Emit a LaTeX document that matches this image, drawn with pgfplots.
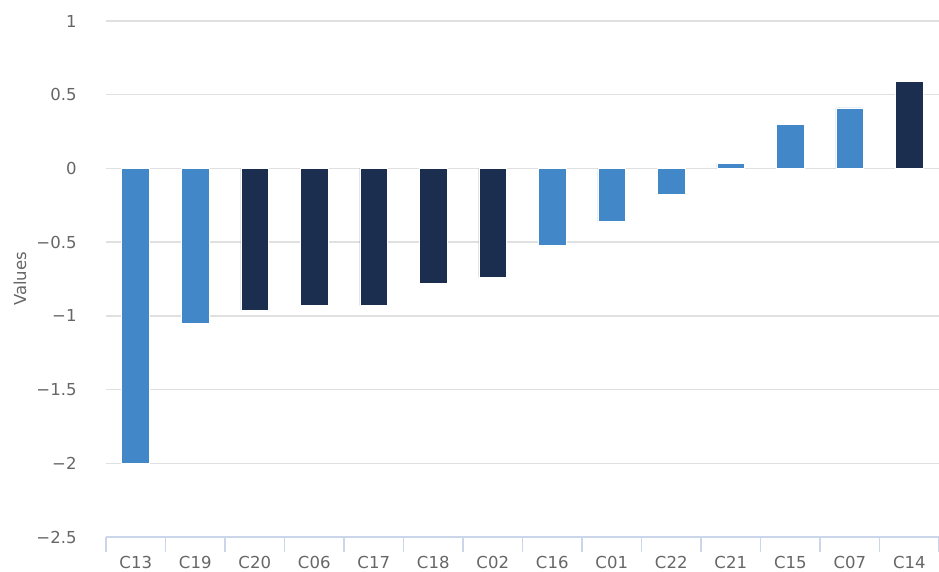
\documentclass[border=0pt]{standalone}
\usepackage{pgfplots}
\pgfplotsset{compat=1.18}
\usepackage{fontspec}
\setmainfont{DejaVu Sans}

\definecolor{lightbar}{RGB}{66,135,199}
\definecolor{darkbar}{RGB}{27,46,80}
\definecolor{gridgray}{RGB}{224,224,224}
\definecolor{axisblue}{RGB}{204,214,235}
\definecolor{textgray}{RGB}{102,102,102}

\begin{document}
\begin{tikzpicture}
\begin{axis}[
  name=ax,
  at={(0,0)}, anchor=south west,
  scale only axis,
  width=833pt, height=516pt,
  xmin=-0.5, xmax=13.5,
  ymin=-2.5, ymax=1,
  ybar, bar width=27.7pt,
  axis x line*=bottom,
  axis y line*=left,
  y axis line style={draw=none},
  x axis line style={draw=axisblue, line width=1.3pt},
  xtick={0,...,13},
  xticklabels={C13,C19,C20,C06,C17,C18,C02,C16,C01,C22,C21,C15,C07,C14},
  major x tick style={draw=none},
  minor xtick={-0.5,0.5,...,13.5},
  minor x tick style={draw=axisblue, line width=1.3pt},
  minor tick length=15pt,
  tick align=outside,
  ytick={-2.5,-2,-1.5,-1,-0.5,0,0.5,1},
  yticklabels={−2.5,−2,−1.5,−1,−0.5,0,0.5,1},
  ytick style={draw=none},
  ymajorgrids,
  grid style={draw=gridgray, line width=1.3pt},
  tick label style={font=\fontsize{16.5}{19}\selectfont, text=textgray, inner sep=0pt},
  xticklabel style={anchor=base, yshift=-27.5pt},
  yticklabel style={anchor=east, xshift=-25pt},
  ylabel={Values},
  ylabel style={at={(axis description cs:-0.1032,0.5)}, anchor=center,
    font=\fontsize{16.5}{19}\selectfont, text=textgray},
  clip=false,
]
\addplot[fill=lightbar, draw=white, line width=0.8pt, bar shift=0pt] coordinates {
  (0,-2.00) (1,-1.05) (7,-0.52) (8,-0.36) (9,-0.175) (10,0.036) (11,0.30) (12,0.41)
};
\addplot[fill=darkbar, draw=white, line width=0.8pt, bar shift=0pt] coordinates {
  (2,-0.96) (3,-0.93) (4,-0.93) (5,-0.78) (6,-0.74) (13,0.587)
};
\end{axis}
\pgfresetboundingbox
\path (-106pt,-35pt) rectangle (833pt,537pt);
\end{tikzpicture}
\end{document}
